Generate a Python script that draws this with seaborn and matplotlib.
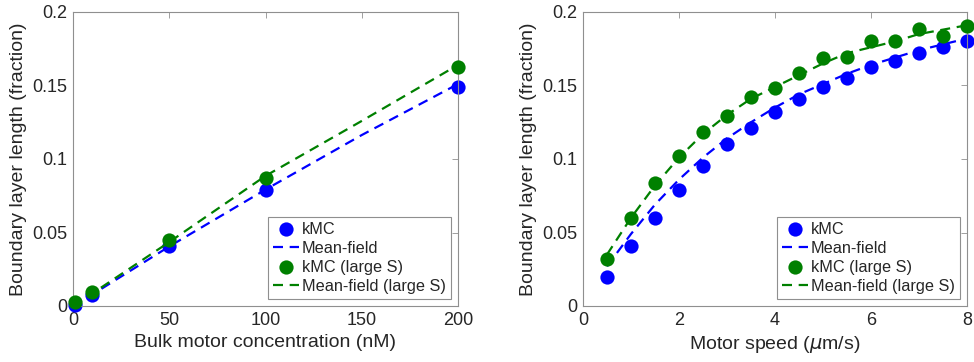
import numpy as np
import pandas as pd
import matplotlib
matplotlib.use('Agg')
import matplotlib.pyplot as plt
from matplotlib.ticker import FuncFormatter
import seaborn as sns

# Left panel: boundary layer vs bulk motor concentration
conc_kmc = [1, 10, 50, 100, 200]
conc_kmc_vals = [0.001, 0.0075, 0.0408, 0.0792, 0.1493]
conc_kmc_large_vals = [0.003, 0.0097, 0.0449, 0.0868, 0.1625]
conc_mf = [0, 10, 50, 100, 150, 200]
conc_mf_vals = [0.0, 0.0078, 0.0405, 0.0792, 0.1163, 0.1510]
conc_mf_large_vals = [0.0, 0.0085, 0.0435, 0.0885, 0.1259, 0.1640]

# Right panel: boundary layer vs motor speed
speed = [0.5, 1, 1.5, 2, 2.5, 3, 3.5, 4, 4.5, 5, 5.5, 6, 6.5, 7, 7.5, 8]
speed_kmc_vals = [0.0200, 0.0407, 0.0600, 0.0790, 0.0950, 0.1100, 0.1208,
                  0.1320, 0.1410, 0.1492, 0.1551, 0.1624, 0.1670, 0.1720,
                  0.1765, 0.1800]
speed_kmc_large_vals = [0.0322, 0.0600, 0.0840, 0.1020, 0.1184, 0.1292,
                        0.1420, 0.1482, 0.1583, 0.1690, 0.1692, 0.1800,
                        0.1800, 0.1882, 0.1836, 0.1904]
speed_mf_vals = [0.027, 0.049, 0.069, 0.086, 0.101, 0.114, 0.125, 0.135,
                 0.144, 0.151, 0.158, 0.164, 0.169, 0.174, 0.178, 0.182]
speed_mf_large_vals = [0.035, 0.060, 0.082, 0.101, 0.117, 0.130, 0.141,
                       0.149, 0.157, 0.165, 0.172, 0.176, 0.180, 0.185,
                       0.188, 0.191]

labels = ['kMC', 'Mean-field', 'kMC (large S)', 'Mean-field (large S)']
BLUE = '#0000ff'
GREEN = '#008000'
TEXT = '#262626'
SPINE = '#8f8f8f'

sns.set_style('white')
plt.rcParams['font.family'] = ['Liberation Sans', 'DejaVu Sans']
plt.rcParams['text.color'] = TEXT
plt.rcParams['axes.labelcolor'] = TEXT
plt.rcParams['xtick.color'] = TEXT
plt.rcParams['ytick.color'] = TEXT


def draw_panel(ax, x_pts, y_pts, y_pts_large, x_line, y_line, y_line_large,
               xlim, xticks, xlabel):
    sns.scatterplot(x=x_pts, y=y_pts, ax=ax, color=BLUE, s=105,
                    linewidth=0, label=labels[0], zorder=1)
    sns.lineplot(x=x_line, y=y_line, ax=ax, color=BLUE, lw=1.6,
                 label=labels[1], zorder=2, dashes=False)
    sns.scatterplot(x=x_pts, y=y_pts_large, ax=ax, color=GREEN, s=105,
                    linewidth=0, label=labels[2], zorder=3)
    sns.lineplot(x=x_line, y=y_line_large, ax=ax, color=GREEN, lw=1.6,
                 label=labels[3], zorder=4, dashes=False)
    for ln in ax.get_lines():
        ln.set_dashes([4.5, 3])

    ax.set_xlim(*xlim)
    ax.set_ylim(0, 0.2)
    ax.set_xticks(xticks)
    ax.set_yticks([0, 0.05, 0.1, 0.15, 0.2])
    ax.yaxis.set_major_formatter(FuncFormatter(lambda v, p: f'{v:g}'))
    ax.tick_params(direction='in', top=True, right=True, length=4,
                   width=0.6, color=SPINE, labelsize=13, pad=4)
    for sp in ax.spines.values():
        sp.set_color(SPINE)
        sp.set_linewidth(0.8)
    ax.set_xlabel(xlabel, fontsize=14, labelpad=4)
    ax.set_ylabel('Boundary layer length (fraction)', fontsize=14, labelpad=4)
    for art in ax.collections + ax.get_lines():
        art.set_clip_on(False)

    leg = ax.legend(loc='lower right', fontsize=11.7, handlelength=1.6,
                    handletextpad=0.2, labelspacing=0.25, borderpad=0.3,
                    borderaxespad=0.45, fancybox=False, framealpha=1,
                    edgecolor=SPINE, scatterpoints=1)
    leg.get_frame().set_linewidth(0.8)


fig = plt.figure(figsize=(9.74, 3.62), dpi=100)
ax1 = fig.add_axes([73 / 974, 56 / 362, 385 / 974, 294 / 362])
ax2 = fig.add_axes([583 / 974, 56 / 362, 384 / 974, 294 / 362])

draw_panel(ax1, conc_kmc, conc_kmc_vals, conc_kmc_large_vals,
           conc_mf, conc_mf_vals, conc_mf_large_vals,
           (0, 200), [0, 50, 100, 150, 200],
           'Bulk motor concentration (nM)')
draw_panel(ax2, speed, speed_kmc_vals, speed_kmc_large_vals,
           speed, speed_mf_vals, speed_mf_large_vals,
           (0, 8), [0, 2, 4, 6, 8],
           r'Motor speed ($\mu$m/s)')

fig.savefig('out.png', dpi=100)
plt.close(fig)
